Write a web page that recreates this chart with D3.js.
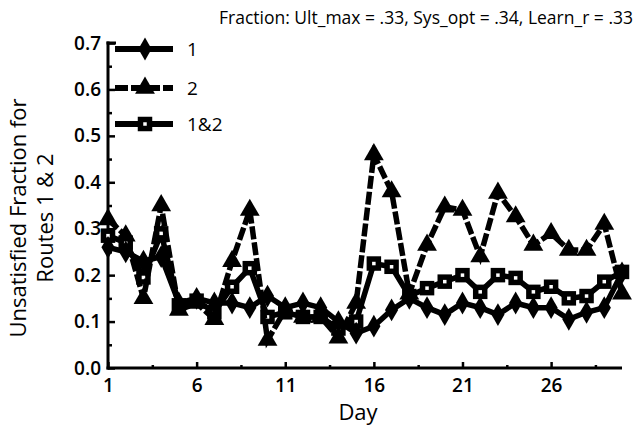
<!DOCTYPE html>
<html><head><meta charset="utf-8">
<script src="https://cdn.jsdelivr.net/npm/d3@7"></script>
<style>
html,body{margin:0;padding:0;background:#fff;}
svg{display:block;}
text{font-family:"Open Sans",sans-serif;fill:#000;}
</style></head>
<body><svg id="c" width="638" height="432"></svg>
<script>
const days = d3.range(1, 31);
const route1 = [0.26,0.25,0.23,0.24,0.14,0.15,0.14,0.14,0.13,0.155,0.13,0.14,0.13,0.10,0.075,0.09,0.125,0.15,0.13,0.115,0.14,0.13,0.115,0.14,0.13,0.13,0.105,0.12,0.13,0.205];
const route2 = [0.32,0.285,0.15,0.35,0.125,0.14,0.105,0.23,0.34,0.06,0.125,0.11,0.11,0.065,0.14,0.46,0.38,0.16,0.265,0.347,0.34,0.24,0.377,0.326,0.265,0.29,0.254,0.254,0.31,0.16];
const route12 = [0.285,0.27,0.195,0.29,0.135,0.145,0.12,0.175,0.215,0.11,0.12,0.11,0.11,0.085,0.10,0.225,0.218,0.155,0.172,0.186,0.2,0.164,0.2,0.194,0.164,0.175,0.15,0.155,0.186,0.207];
const xTicks = [1,6,11,16,21,26];
const xMinor = [3.5,8.5,13.5,18.5,23.5,28.5];
const yTicks = [0,0.1,0.2,0.3,0.4,0.5,0.6,0.7];
const yMinor = [0.05,0.15,0.25,0.35,0.45,0.55,0.65];
const legendLabels = ["1","2","1&2"];
const titleText = "Fraction: Ult_max = .33, Sys_opt = .34, Learn_r = .33";

const svg = d3.select("#c");
const x = d3.scaleLinear().domain([1,30]).range([108,622]);
const y = d3.scaleLinear().domain([0,0.7]).range([368,43]);

// axes
const gx = svg.append("g").attr("transform","translate(0,368)")
  .call(d3.axisBottom(x).tickValues(xTicks).tickSize(-6).tickPadding(11).tickFormat(d3.format("d")));
svg.append("g").attr("transform","translate(0,368)")
  .call(d3.axisBottom(x).tickValues(xMinor).tickSize(-3).tickFormat(""));
const gy = svg.append("g").attr("transform","translate(108,0)")
  .call(d3.axisLeft(y).tickValues(yTicks).tickSize(-7).tickPadding(7).tickFormat(d3.format(".1f")));
svg.append("g").attr("transform","translate(108,0)")
  .call(d3.axisLeft(y).tickValues(yMinor).tickSize(-4).tickFormat(""));
svg.selectAll(".domain").remove();
svg.selectAll(".tick line").attr("stroke","#000").attr("stroke-width",2.5);
svg.selectAll(".tick text").style("font-size","19px").style("font-weight","600").attr("fill","#000");
gx.selectAll(".tick text").attr("dy","0.71em");
svg.append("line").attr("x1",108).attr("x2",108).attr("y1",y(0.7)-1.5).attr("y2",369.5).attr("stroke","#000").attr("stroke-width",3);
svg.append("line").attr("x1",106.5).attr("x2",x(30)).attr("y1",368).attr("y2",368).attr("stroke","#000").attr("stroke-width",3);
svg.append("line").attr("x1",106.5).attr("x2",116).attr("y1",y(0.7)).attr("y2",y(0.7)).attr("stroke","#000").attr("stroke-width",3);

// labels
svg.append("text").attr("x",633).attr("y",24).attr("text-anchor","end")
  .style("font-size","17.5px").style("font-weight","500").text(titleText);
svg.append("text").attr("x",358).attr("y",420).attr("text-anchor","middle")
  .style("font-size","22px").style("font-weight","500").text("Day");
const yl = svg.append("text").attr("transform","translate(0,218) rotate(-90)").attr("text-anchor","middle")
  .style("font-size","22px").style("font-weight","500");
yl.append("tspan").attr("x",0).attr("y",26).text("Unsatisfied Fraction for");
yl.append("tspan").attr("x",0).attr("y",53).text("Routes 1 & 2");

const line = d3.line().x((d,i)=>x(days[i])).y(d=>y(d));
const symDiamond = d3.symbol().type(d3.symbolDiamond).size(150);
const symTri = d3.symbol().type(d3.symbolTriangle).size(170);

function drawSeries(vals, dash, kind){
  svg.append("path").datum(vals).attr("d",line).attr("fill","none")
    .attr("stroke","#000").attr("stroke-width",5.5).attr("stroke-dasharray",dash||null);
  const g = svg.append("g");
  vals.forEach((v,i)=>drawMarker(g, x(days[i]), y(v), kind));
}
function drawMarker(g, cx, cy, kind){
  if(kind==="sq"){
    g.append("rect").attr("x",cx-4.5).attr("y",cy-4.5).attr("width",9).attr("height",9)
      .attr("fill","#fff").attr("stroke","#000").attr("stroke-width",5.5);
  } else if(kind==="di"){
    g.append("path").attr("d",symDiamond).attr("transform",`translate(${cx},${cy})`).attr("fill","#000");
  } else {
    g.append("path").attr("d",symTri).attr("transform",`translate(${cx},${cy})`).attr("fill","#000");
  }
}
drawSeries(route12, null, "sq");
drawSeries(route1, null, "di");
drawSeries(route2, "13,3", "tr");

// legend
const legY = [49, 88, 124];
const kinds = ["di","tr","sq"];
const dashes = [null, "13,3", null];
legendLabels.forEach((lab,i)=>{
  svg.append("line").attr("x1",115).attr("x2",173).attr("y1",legY[i]).attr("y2",legY[i])
    .attr("stroke","#000").attr("stroke-width",6).attr("stroke-dasharray",dashes[i]);
  drawMarker(svg, 145, legY[i], kinds[i]);
  svg.append("text").attr("x",187).attr("y",legY[i]+7).style("font-size","19px").style("font-weight","500").text(lab);
});
</script></body></html>
